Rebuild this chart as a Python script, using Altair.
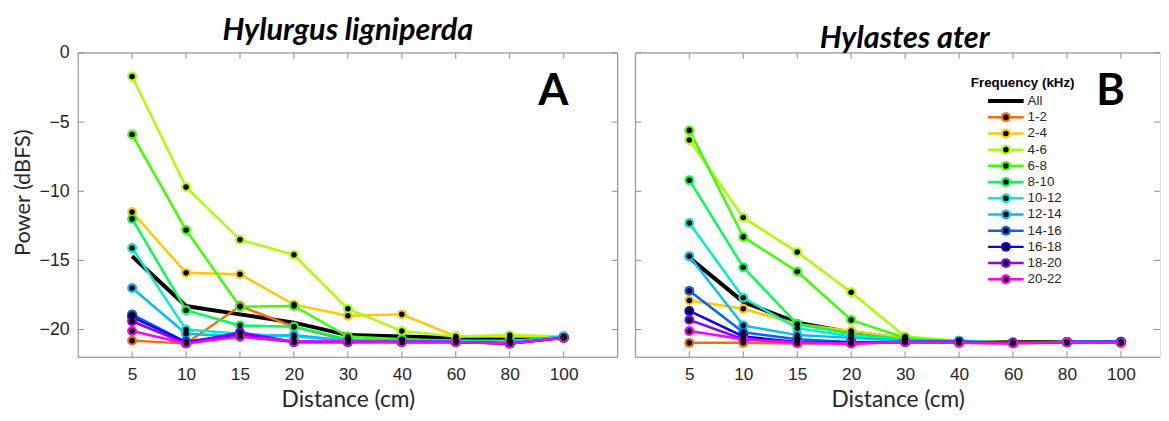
import altair as alt
import pandas as pd

distances = [5, 10, 15, 20, 30, 40, 60, 80, 100]
series = ["All", "1-2", "2-4", "4-6", "6-8", "8-10", "10-12", "12-14",
          "14-16", "16-18", "18-20", "20-22"]
colors = ["#000000", "#FF6A00", "#FFC800", "#AAFF00", "#3CFF00", "#00FF50",
          "#00F0C8", "#00BEFF", "#0064FF", "#0A00FF", "#8C00FF", "#FF00FF"]
y_ticks = [0, -5, -10, -15, -20]
titles = ["Hylurgus ligniperda", "Hylastes ater"]
letters = ["A", "B"]

# Panel A (Hylurgus ligniperda)
a_all = [-14.7, -18.3, -18.9, -19.5, -20.4, -20.5, -20.6, -20.7, -20.6]
a_1_2 = [-20.8, -21.0, -18.3, -19.8, -20.8, -20.9, -20.9, -21.0, -20.6]
a_2_4 = [-11.5, -15.9, -16.0, -18.2, -19.0, -18.9, -20.5, -20.5, -20.5]
a_4_6 = [-1.7, -9.7, -13.5, -14.6, -18.5, -20.1, -20.5, -20.4, -20.5]
a_6_8 = [-5.9, -12.8, -18.35, -18.3, -20.5, -20.7, -20.8, -20.8, -20.6]
a_8_10 = [-12.0, -18.6, -19.7, -19.8, -20.7, -20.8, -20.8, -20.9, -20.6]
a_10_12 = [-14.1, -20.0, -20.3, -20.5, -20.8, -20.8, -20.9, -20.9, -20.5]
a_12_14 = [-17.0, -20.3, -20.5, -20.4, -20.8, -20.8, -20.9, -20.9, -20.5]
a_14_16 = [-18.9, -20.9, -20.5, -20.9, -20.9, -20.9, -20.9, -21.0, -20.6]
a_16_18 = [-19.1, -20.9, -20.3, -20.9, -20.9, -20.9, -20.9, -21.0, -20.6]
a_18_20 = [-19.4, -21.0, -20.2, -20.9, -20.9, -20.9, -20.9, -21.0, -20.6]
a_20_22 = [-20.1, -21.0, -20.5, -20.85, -20.85, -20.9, -20.9, -21.0, -20.6]

# Panel B (Hylastes ater)
b_all = [-14.8, -18.0, -19.5, -20.2, -20.7, -20.9, -20.9, -20.9, -20.9]
b_1_2 = [-20.96, -20.95, -21.0, -21.0, -20.9, -20.95, -21.0, -20.95, -20.95]
b_2_4 = [-17.9, -18.5, -19.6, -20.1, -20.6, -20.9, -20.95, -20.9, -20.9]
b_4_6 = [-6.3, -11.9, -14.4, -17.3, -20.5, -20.8, -20.9, -20.9, -20.9]
b_6_8 = [-5.6, -13.3, -15.8, -19.3, -20.6, -20.9, -20.95, -20.9, -20.9]
b_8_10 = [-9.2, -15.5, -19.6, -20.3, -20.7, -20.9, -20.95, -20.9, -20.9]
b_10_12 = [-12.3, -17.7, -19.9, -20.5, -20.8, -20.9, -20.95, -20.9, -20.9]
b_12_14 = [-14.7, -19.7, -20.4, -20.6, -20.8, -20.8, -20.95, -20.9, -20.85]
b_14_16 = [-17.2, -20.2, -20.7, -20.9, -20.9, -20.9, -20.95, -20.9, -20.9]
b_16_18 = [-18.65, -20.5, -20.9, -20.95, -20.9, -20.9, -20.95, -20.9, -20.9]
b_18_20 = [-19.3, -20.7, -20.9, -21.0, -20.9, -20.9, -20.95, -20.9, -20.9]
b_20_22 = [-20.1, -20.7, -20.95, -21.0, -20.9, -20.95, -21.0, -20.9, -20.95]

panel_a = [a_all, a_1_2, a_2_4, a_4_6, a_6_8, a_8_10, a_10_12, a_12_14,
           a_14_16, a_16_18, a_18_20, a_20_22]
panel_b = [b_all, b_1_2, b_2_4, b_4_6, b_6_8, b_8_10, b_10_12, b_12_14,
           b_14_16, b_16_18, b_18_20, b_20_22]


def make_df(panel):
    rows = []
    for k, (s, vals) in enumerate(zip(series, panel)):
        for i, v in enumerate(vals):
            rows.append({"series": s, "k": k, "idx": i + 1, "value": v})
    return pd.DataFrame(rows)


H = 308
YMIN = -22
FONT_T = "Lato"
FONT_L = "Liberation Sans"
FRAME = "#8c8c8c"
label_expr = "[''," + ",".join("'%d'" % d for d in distances) + ",''][datum.value]"
color_scale = alt.Scale(domain=series, range=colors)
one = pd.DataFrame({"d": [0]})


def panel(df, title, letter, xmax, width, left, legend, title_dx):
    xaxis = alt.Axis(values=list(range(1, 10)), labelExpr=label_expr, ticks=False,
                     domain=False, grid=False, title="Distance (cm)",
                     labelFont=FONT_L, labelFontSize=17.5, labelColor="#262626",
                     labelPadding=9, titleFont=FONT_T, titleFontSize=23,
                     titleFontWeight="normal", titleColor="#262626", titlePadding=5)
    x = alt.X("idx:Q", scale=alt.Scale(domain=[0, xmax], nice=False, zero=False), axis=xaxis)
    if left:
        yaxis = alt.Axis(values=y_ticks, ticks=False, domain=False, grid=False,
                         title="Power (dBFS)", labelFont=FONT_L, labelFontSize=18,
                         labelColor="#262626", labelPadding=9, titleFont=FONT_T,
                         titleFontSize=22, titleFontWeight="normal",
                         titleColor="#262626", titlePadding=5, titleY=141)
        y = alt.Y("value:Q", scale=alt.Scale(domain=[YMIN, 0], nice=False, zero=False), axis=yaxis)
    else:
        y = alt.Y("value:Q", scale=alt.Scale(domain=[YMIN, 0], nice=False, zero=False), axis=None)

    base = alt.Chart(df)
    black = base.transform_filter("datum.series == 'All'").mark_line(
        strokeWidth=4, color="#000000").encode(x=x, y=y)
    col = base.transform_filter("datum.series != 'All'")
    lines = col.mark_line(strokeWidth=2.5).encode(
        x=x, y=y, color=alt.Color("series:N", scale=color_scale, legend=None),
        detail="series:N", order="idx:Q")
    outer = col.mark_circle(size=100, opacity=1).encode(
        x=x, y=y, color=alt.Color("series:N", scale=color_scale, legend=None))
    inner = col.mark_circle(size=32, opacity=1, color="#000000").encode(x=x, y=y)

    ydf = pd.DataFrame({"value": y_ticks})
    xdf = pd.DataFrame({"idx": list(range(1, 10))})
    tl = alt.Chart(ydf).mark_rule(color=FRAME, strokeWidth=1).encode(
        y=y, x=alt.value(0), x2=alt.value(6))
    tr = alt.Chart(ydf).mark_rule(color=FRAME, strokeWidth=1).encode(
        y=y, x=alt.value(width - 6), x2=alt.value(width))
    tb = alt.Chart(xdf).mark_rule(color=FRAME, strokeWidth=1).encode(
        x=x, y=alt.value(H - 6), y2=alt.value(H))
    tt = alt.Chart(xdf).mark_rule(color=FRAME, strokeWidth=1).encode(
        x=x, y=alt.value(0), y2=alt.value(6))

    fr = alt.Chart(one).mark_rule(color=FRAME, strokeWidth=1)
    f_top = fr.encode(y=alt.value(0), x=alt.value(0), x2=alt.value(width))
    f_bot = fr.encode(y=alt.value(H), x=alt.value(0), x2=alt.value(width))
    f_left = fr.encode(x=alt.value(0), y=alt.value(0), y2=alt.value(H))
    frames = [f_top, f_bot, f_left]
    if left:
        frames.append(fr.encode(x=alt.value(width), y=alt.value(0), y2=alt.value(H)))

    let = alt.Chart(pd.DataFrame({"t": [letter]})).mark_text(
        font=FONT_T, fontWeight="bold", fontSize=44, color="#000000",
        align="center", baseline="middle").encode(
        text="t:N", x=alt.value(481), y=alt.value(40))

    layers = frames + [tl, tr, tb, tt, black, lines, outer, inner, let]

    if legend:
        ldf = pd.DataFrame({"series": series, "k": list(range(len(series)))})
        # legend rows at a fixed pixel spacing, converted to the y scale
        lbase = alt.Chart(ldf).transform_calculate(
            value="%f * (48.7 + datum.k * 16.4) / %d" % (YMIN, H))
        ltitle = alt.Chart(pd.DataFrame({"t": ["Frequency (kHz)"]})).mark_text(
            font=FONT_L, fontWeight="bold", fontSize=13.5, color="#000000",
            align="center", baseline="middle").encode(
            text="t:N", x=alt.value(392), y=alt.value(30))
        lline_all = lbase.transform_filter("datum.k == 0").mark_rule(
            strokeWidth=4, color="#000000").encode(
            y=y, x=alt.value(357), x2=alt.value(393))
        lline = lbase.transform_filter("datum.k > 0").mark_rule(strokeWidth=2.5).encode(
            y=y, x=alt.value(357), x2=alt.value(393),
            color=alt.Color("series:N", scale=color_scale, legend=None))
        lout = lbase.transform_filter("datum.k > 0").mark_circle(size=100, opacity=1).encode(
            y=y, x=alt.value(375),
            color=alt.Color("series:N", scale=color_scale, legend=None))
        lin = lbase.transform_filter("datum.k > 0").mark_circle(
            size=32, opacity=1, color="#000000").encode(y=y, x=alt.value(375))
        ltext = lbase.mark_text(font=FONT_L, fontSize=13.5, color="#262626",
                                align="left", baseline="middle").encode(
            y=y, x=alt.value(397), text="series:N")
        layers += [ltitle, lline_all, lline, lout, lin, ltext]

    return alt.layer(*layers).properties(
        width=width, height=H,
        title=alt.TitleParams(title, font=FONT_T, fontStyle="italic",
                              fontWeight="bold", fontSize=31, color="#000000",
                              anchor="middle", offset=-3, dx=title_dx))


left_chart = panel(make_df(panel_a), titles[0], letters[0], 10, 546, True, False, 0)
right_chart = panel(make_df(panel_b), titles[1], letters[1], 531 / 54.6, 531, False, True, 7)

chart = alt.hconcat(left_chart, right_chart, spacing=16).properties(
    padding={"left": 2, "top": 4, "right": 0, "bottom": 0}
).configure_view(strokeWidth=0).configure(background="#ffffff")

chart.save("out.html", embed_options={"renderer": "svg", "actions": False})
